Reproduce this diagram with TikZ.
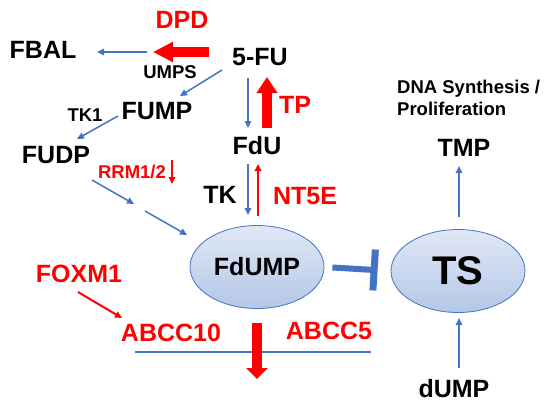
\documentclass[tikz,border=0pt]{standalone}
\usepackage{fontspec}
\setmainfont{Liberation Sans}
\usetikzlibrary{arrows.meta,shapes.geometric}

\definecolor{flowblue}{HTML}{4472C4}
\definecolor{ovaltop}{HTML}{E0E8F6}
\definecolor{ovalbot}{HTML}{B4C7E7}

\def \bigfont {\fontsize{25}{30}\selectfont\bfseries}
\def \smallfont {\fontsize{18.5}{22}\selectfont\bfseries}

\begin{document}
\begin{tikzpicture}[x=1pt, y=-1pt,
  flow/.style={flowblue, line width=1.5pt, -{Triangle[length=7pt, width=6.5pt]}},
  redflow/.style={red, line width=2pt, -{Triangle[length=7pt, width=6.5pt]}},
  fat/.style={red, line width=9.5pt}]

\useasboundingbox (0,0) rectangle (546,405);

\begin{scope}[every node/.style={inner sep=0, font=\bigfont}]
\node(fbal) at(43,50) {FBAL};
\node(fu) at(260,57) {5-FU};
\node(fump) at(157,111) {FUMP};
\node(fudp) at(56,155) {FUDP};
\node(fdu) at(257,146) {FdU};
\node(tk) at(220,195) {TK};
\node(tmp) at(464,148) {TMP};
\node(dump) at(454,389) {dUMP};
\node[red](dpd) at(182,20) {DPD};
\node[red](tp) at(295,105) {TP};
\node[red](ntfe) at(305,196) {NT5E};
\node[red](foxm) at(79,274) {FOXM1};
\node[red](abccten) at(171,333) {ABCC10};
\node[red](abccfive) at(329,331) {ABCC5};
\end{scope}

\begin{scope}[every node/.style={inner sep=0, font=\smallfont}]
\node(umps) at(170,72) {UMPS};
\node(tkone) at(85,115) {TK1};
\node[red](rrm) at(132,172) {RRM1/2};
\node[anchor=north west, align=left](dna) at(397,80) {DNA Synthesis /\\Proliferation};
\end{scope}

\begin{scope}[every node/.style={ellipse, draw=flowblue, line width=0.8pt,
  top color=ovaltop, bottom color=ovalbot, minimum width=134pt, minimum height=83pt}]
\node[font=\bigfont](fdump) at(257,267) {FdUMP};
\node[font=\fontsize{40}{44}\selectfont\bfseries](ts) at(458,271) {TS};
\end{scope}

% end points of the connectors
\coordinate(a0) at(147,52); \coordinate(a1) at(97,52);
\coordinate(b0) at(222,70); \coordinate(b1) at(180,96);
\coordinate(c0) at(118,116); \coordinate(c1) at(77,139);
\coordinate(d0) at(92,180); \coordinate(d1) at(134,204);
\coordinate(e0) at(145,211); \coordinate(e1) at(187,235);
\coordinate(f0) at(248,78); \coordinate(f1) at(248,128);
\coordinate(g0) at(248,164); \coordinate(g1) at(248,215);
\coordinate(h0) at(459,217); \coordinate(h1) at(459,166);
\coordinate(k0) at(459,368); \coordinate(k1) at(459,318);
\coordinate(rr0) at(172,160); \coordinate(rr1) at(172,184);
\coordinate(nt0) at(258,216); \coordinate(nt1) at(258,164);
\coordinate(fx0) at(78,292); \coordinate(fx1) at(122,318);
\coordinate(dp0) at(209,52); \coordinate(dp1) at(153,52);
\coordinate(tp0) at(267,128); \coordinate(tp1) at(267,77);
\coordinate(ef0) at(257,323); \coordinate(ef1) at(257,379);
\coordinate(mem0) at(135,352); \coordinate(mem1) at(371,352);

\draw[flow] (a0) -- (a1);
\draw[flow] (b0) -- (b1);
\draw[flow] (c0) -- (c1);
\draw[flow] (d0) -- (d1);
\draw[flow] (e0) -- (e1);
\draw[flow] (f0) -- (f1);
\draw[flow] (g0) -- (g1);
\draw[flow] (h0) -- (h1);
\draw[flow] (k0) -- (k1);

\draw[redflow] (rr0) -- (rr1);
\draw[redflow] (nt0) -- (nt1);
\draw[redflow] (fx0) -- (fx1);

\draw[fat, -{Triangle[length=20pt, width=19pt]}] (dp0) -- (dp1);
\draw[fat, -{Triangle[length=16pt, width=20pt]}] (tp0) -- (tp1);

\draw[flowblue, line width=1.5pt] (mem0) -- (mem1);
\draw[fat, -{Triangle[length=11pt, width=21pt]}] (ef0) -- (ef1);

\draw[flowblue, line width=6pt, shorten <=8pt, shorten >=13pt,
  -{Bar[width=41pt, line width=7pt]}] (fdump.east) -- (ts.west);

\end{tikzpicture}
\end{document}
